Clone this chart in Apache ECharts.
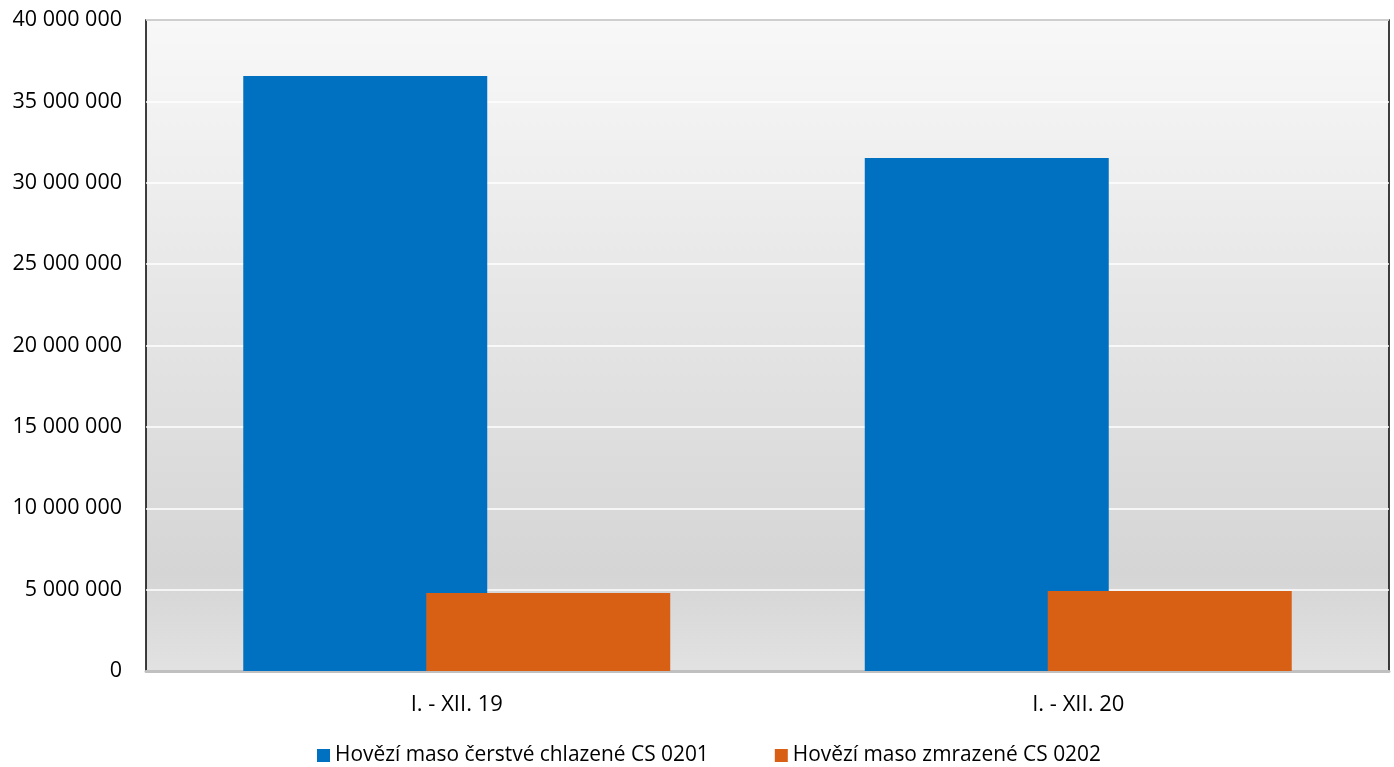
<!DOCTYPE html>
<html><head><meta charset="utf-8">
<script src="https://cdn.jsdelivr.net/npm/echarts@6/dist/echarts.min.js"></script>
<style>html,body{margin:0;padding:0;background:#fff}#c{width:1394px;height:767px}</style>
</head><body><div id="c"></div>
<script>
const categories = ['I. - XII. 19', 'I. - XII. 20'];
const seriesNames = ['Hovězí maso čerstvé chlazené CS 0201', 'Hovězí maso zmrazené CS 0202'];
const chilled = [36560000, 31520000];
const frozen = [4790000, 4920000];
const yTicks = {min: 0, max: 40000000, interval: 5000000};

const fmt = v => String(Math.round(v)).replace(/\B(?=(\d{3})+(?!\d))/g, ' ');
const chart = echarts.init(document.getElementById('c'));
const font = '"Open Sans", "Noto Sans", sans-serif';
chart.setOption({
  animation: false,
  grid: {left: 146, right: 5, top: 20, bottom: 96, show: true, borderColor: '#000', borderWidth: 1.5,
    backgroundColor: {type: 'linear', x: 0, y: 0, x2: 0, y2: 1, colorStops: [
      {offset: 0, color: '#f8f8f8'}, {offset: 0.85, color: '#d5d5d5'}, {offset: 1, color: '#e2e2e2'}]}},
  legend: {top: 740, left: 312, itemWidth: 13, itemHeight: 13, itemGap: 66, icon: 'rect',
    textStyle: {fontFamily: font, fontSize: 20.9, color: '#000'}, data: seriesNames},
  xAxis: {type: 'category', data: categories,
    axisLine: {lineStyle: {color: '#c0c0c0', width: 3}}, axisTick: {show: false},
    axisLabel: {fontFamily: font, fontSize: 22, color: '#000', margin: 23}},
  yAxis: {type: 'value', min: yTicks.min, max: yTicks.max, interval: yTicks.interval,
    axisLine: {show: false}, axisTick: {show: false},
    splitLine: {lineStyle: {color: '#ffffff', width: 1.5}},
    axisLabel: {fontFamily: font, fontSize: 21.5, color: '#000', margin: 24, formatter: fmt}},
  series: [
    {name: seriesNames[0], type: 'bar', data: chilled, barGap: '-25%', barCategoryGap: '31.3%',
      itemStyle: {color: '#0070c0'}},
    {name: seriesNames[1], type: 'bar', data: frozen, itemStyle: {color: '#d76015'}}
  ]
});
</script></body></html>
